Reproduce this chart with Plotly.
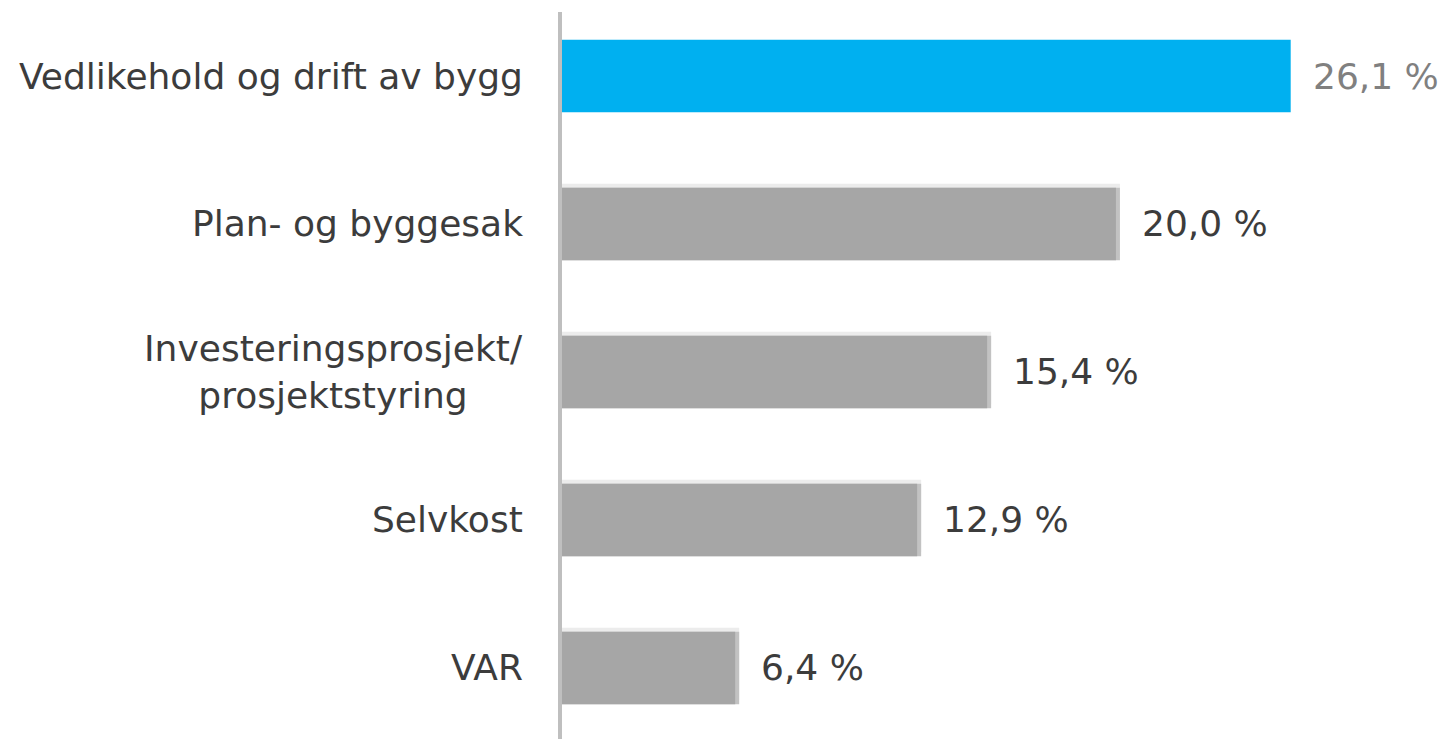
import plotly.graph_objects as go

categories = ["Vedlikehold og drift av bygg", "Plan- og byggesak",
              "Investeringsprosjekt/<br>prosjektstyring", "Selvkost", "VAR"]
values = [26.1, 20.0, 15.4, 12.9, 6.4]
value_labels = ["26,1 %", "20,0 %", "15,4 %", "12,9 %", "6,4 %"]

W, H = 1443, 739
ML, MT = 560, 2
XMAX = 31.54
px_x = (W - ML) / XMAX          # pixels per data unit on x
YR = [4.48, -0.5]
px_y = (H - MT) / (YR[0] - YR[1])
pad_x = 4 / px_x
pad_y = 4 / px_y
bw = 0.49

pos = list(range(len(categories)))
grey_pos = pos[1:]
grey_vals = values[1:]

fig = go.Figure()
# light top strip of grey bars
fig.add_trace(go.Bar(y=grey_pos, x=grey_vals, orientation="h", width=bw,
                     offset=-bw / 2 - pad_y, marker=dict(color="#ececec", line_width=0),
                     hoverinfo="skip", showlegend=False))
# right strip of grey bars
fig.add_trace(go.Bar(y=grey_pos, x=grey_vals, orientation="h", width=bw,
                     offset=-bw / 2, marker=dict(color="#c2c2c2", line_width=0),
                     hoverinfo="skip", showlegend=False))
# main grey bars
fig.add_trace(go.Bar(y=grey_pos, x=[v - pad_x for v in grey_vals], orientation="h",
                     width=bw, offset=-bw / 2,
                     marker=dict(color="#a6a6a6", line_width=0), showlegend=False))
# highlighted bar
fig.add_trace(go.Bar(y=pos[:1], x=values[:1], orientation="h", width=bw,
                     offset=-bw / 2, marker=dict(color="#00b0f0", line_width=0),
                     showlegend=False))

font_family = "DejaVu Sans, Verdana, sans-serif"
for i, (c, v, lab) in enumerate(zip(categories, values, value_labels)):
    fig.add_annotation(x=0, xref="paper", y=i, yref="y", text=c, showarrow=False,
                       xanchor="right", yanchor="middle", align="center", xshift=-35,
                       font=dict(family=font_family, size=36, color="#3c3c3c"))
    fig.add_annotation(x=v, xref="x", y=i, yref="y", text=lab, showarrow=False,
                       xanchor="left", yanchor="middle", xshift=20,
                       font=dict(family=font_family, size=36,
                                 color="#808080" if i == 0 else "#3c3c3c"))

fig.add_shape(type="line", xref="paper", yref="paper", x0=0, x1=0,
              y0=-0.01, y1=1 - 10 / (H - MT), line=dict(color="#bfbfbf", width=4),
              layer="above")

fig.update_layout(
    width=W, height=H, barmode="overlay",
    margin=dict(l=ML, r=0, t=MT, b=0),
    paper_bgcolor="white", plot_bgcolor="white",
    xaxis=dict(range=[0, XMAX], visible=False, fixedrange=True),
    yaxis=dict(range=YR, visible=False, fixedrange=True),
    font=dict(family=font_family),
)

fig.write_html("out.html", config={"displayModeBar": False},
               post_script="document.body.style.margin='0';")
